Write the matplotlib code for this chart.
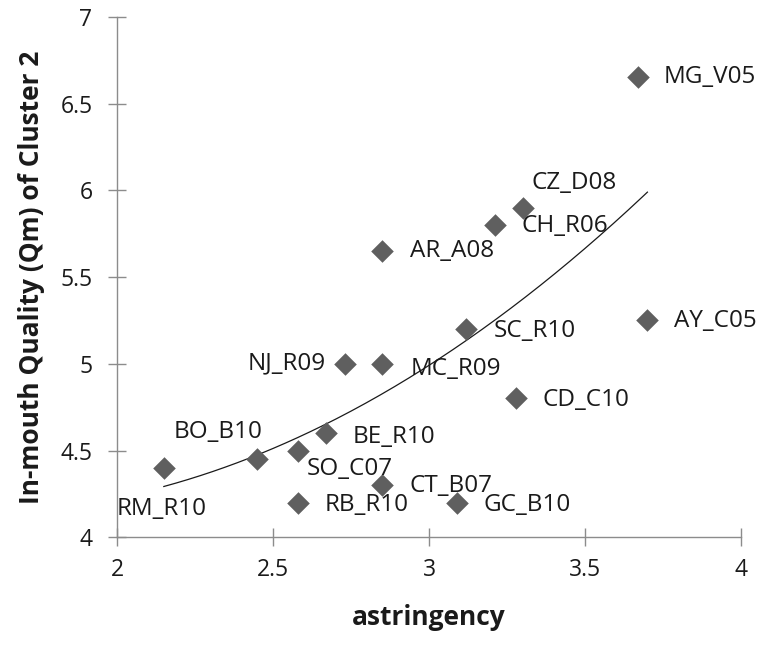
import numpy as np
import matplotlib
matplotlib.use("Agg")
import matplotlib.pyplot as plt

# ---- data ----
labels = ["MG_V05", "CZ_D08", "CH_R06", "AR_A08", "SC_R10", "AY_C05",
          "NJ_R09", "MC_R09", "CD_C10", "BE_R10", "BO_B10", "SO_C07",
          "RM_R10", "CT_B07", "RB_R10", "GC_B10"]
astringency = [3.67, 3.30, 3.21, 2.85, 3.12, 3.70,
               2.73, 2.85, 3.28, 2.67, 2.45, 2.58,
               2.15, 2.85, 2.58, 3.09]
quality = [6.65, 5.90, 5.80, 5.65, 5.20, 5.25,
           5.00, 5.00, 4.80, 4.60, 4.45, 4.50,
           4.40, 4.30, 4.20, 4.20]
# quadratic trendline coefficients (c2, c1, c0)
trend_coef = [0.390, -1.187, 5.042]

xticks = [2, 2.5, 3, 3.5, 4]
yticks = [4, 4.5, 5, 5.5, 6, 6.5, 7]

# label placement (pixel offsets, alignment)
label_pos = {
    "MG_V05": (26, 0, "left"), "CZ_D08": (9, 25, "left"), "CH_R06": (27, -1, "left"),
    "AR_A08": (28, 0, "left"), "SC_R10": (27, -2, "left"), "AY_C05": (27, -1, "left"),
    "NJ_R09": (-19, 0, "right"), "MC_R09": (28, -5, "left"), "CD_C10": (26, -2, "left"),
    "BE_R10": (27, -4, "left"), "BO_B10": (-39, 27, "center"), "SO_C07": (9, -18, "left"),
    "RM_R10": (-2, -41, "center"), "CT_B07": (27, -1, "left"), "RB_R10": (27, -2, "left"),
    "GC_B10": (26, -2, "left"),
}

plt.rcParams['font.family'] = ['Open Sans', 'DejaVu Sans']

fig = plt.figure(figsize=(7.73, 6.45), dpi=100)
ax = fig.add_axes([0.1514, 0.167, 0.8072, 0.807])

ax.scatter(astringency, quality, marker='D', s=11.5**2, color='#5f5f5f',
           linewidths=0, zorder=3)

xs = np.linspace(min(astringency), max(astringency), 200)
ax.plot(xs, np.polyval(trend_coef, xs), color='#1a1a1a', lw=0.9, zorder=2)

for name, x, y in zip(labels, astringency, quality):
    dx, dy, ha = label_pos[name]
    ax.annotate(name, (x, y), xytext=(dx, dy), textcoords='offset pixels',
                ha=ha, va='center', fontsize=17.5, color='#1a1a1a', zorder=4)

ax.set_xlim(2, 4)
ax.set_ylim(4, 7)
ax.set_xticks(xticks)
ax.set_xticklabels([f"{t:g}" for t in xticks])
ax.set_yticks(yticks)
ax.set_yticklabels([f"{t:g}" for t in yticks])

for s in ['top', 'right']:
    ax.spines[s].set_visible(False)
for s in ['left', 'bottom']:
    ax.spines[s].set_color('#8c8c8c')
    ax.spines[s].set_linewidth(1.0)
ax.tick_params(direction='inout', length=13.5, width=1.0, color='#8c8c8c',
               labelsize=16.5, labelcolor='#1a1a1a')
ax.tick_params(axis='y', pad=11)
ax.tick_params(axis='x', pad=8)

ax.set_xlabel("astringency", fontsize=19, fontweight='bold', color='#1a1a1a', labelpad=16)
ax.set_ylabel("In-mouth Quality (Qm) of Cluster 2", fontsize=19, fontweight='bold',
              color='#1a1a1a', labelpad=11)

fig.savefig("out.png", dpi=100)
